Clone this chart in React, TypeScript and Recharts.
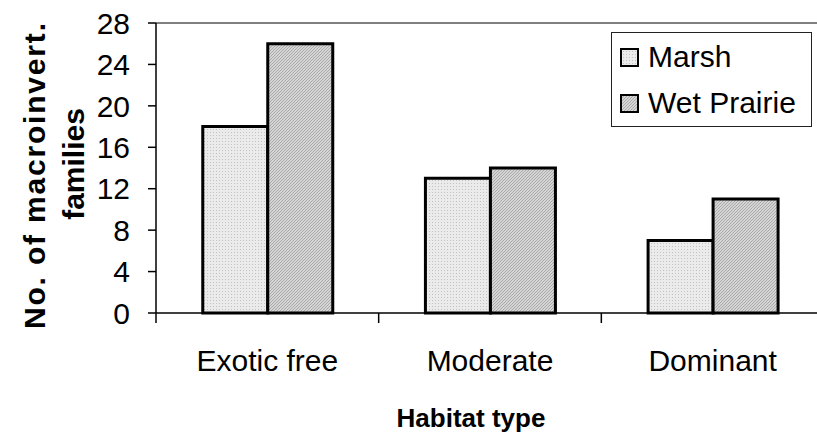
import { BarChart, Bar, XAxis, YAxis, ReferenceLine, Legend } from 'recharts';

const categories = ['Exotic free', 'Moderate', 'Dominant'];
const marsh = [18, 13, 7];
const wetPrairie = [26, 14, 11];
const yTicks = [0, 4, 8, 12, 16, 20, 24, 28];
const seriesNames = ['Marsh', 'Wet Prairie'];

const data = categories.map((name, i) => ({ name, marsh: marsh[i], wetPrairie: wetPrairie[i] }));

const FONT = '"Liberation Sans", Arial, sans-serif';
const fills = ['url(#patMarsh)', 'url(#patWet)'];

function XTick(props: any) {
  const { x, y, payload, width, visibleTicksCount } = props;
  const half = payload.offset ?? width / visibleTicksCount / 2;
  return (
    <g>
      <line x1={x - half} x2={x - half} y1={y} y2={y + 10} stroke="#000" strokeWidth={1.5} />
      <text x={x} y={y + 58} textAnchor="middle" fontSize={30} fontFamily={FONT} fill="#000">
        {payload.value}
      </text>
    </g>
  );
}

function YTitle() {
  return (
    <g>
      <defs>
        <pattern id="patMarsh" width="3" height="3" patternUnits="userSpaceOnUse">
          <rect width="3" height="3" fill="#ebebeb" />
          <rect width="1" height="1" fill="#c2c2c2" />
        </pattern>
        <pattern id="patWet" width="3" height="3" patternUnits="userSpaceOnUse">
          <rect width="3" height="3" fill="#d4d4d4" />
          <rect x="0" y="2" width="1" height="1" fill="#ababab" />
          <rect x="1" y="1" width="1" height="1" fill="#ababab" />
          <rect x="2" y="0" width="1" height="1" fill="#ababab" />
        </pattern>
      </defs>
      <text transform="translate(45,176) rotate(-90)" textAnchor="middle" fontSize={30} fontWeight="bold"
        fontFamily={FONT} fill="#000" textLength={306} lengthAdjust="spacing">
        No. of macroinvert.
      </text>
      <text transform="translate(84,164) rotate(-90)" textAnchor="middle" fontSize={30} fontWeight="bold"
        fontFamily={FONT} fill="#000">
        families
      </text>
    </g>
  );
}

function XTitle() {
  return (
    <text x={471} y={427} textAnchor="middle" fontSize={26} fontWeight="bold" fontFamily={FONT} fill="#000">
      Habitat type
    </text>
  );
}

function LegendBox() {
  return (
    <div style={{ width: 199, height: 93, border: '1.5px solid #222', background: '#fff', fontFamily: FONT, fontSize: 30, color: '#000' }}>
      {seriesNames.map((n, i) => (
        <div key={n} style={{ display: 'flex', alignItems: 'center', height: 48, paddingLeft: 8, marginTop: i === 0 ? 0 : -2 }}>
          <svg width={19} height={19} style={{ marginRight: 9 }}>
            <rect x={1} y={1} width={17} height={17} fill={fills[i]} stroke="#000" strokeWidth={2} />
          </svg>
          <span style={{ lineHeight: '30px' }}>{n}</span>
        </div>
      ))}
    </div>
  );
}

export default function App() {
  return (
    <div style={{ position: 'fixed', left: 0, top: 0, width: 817, height: 440, overflow: 'hidden', background: '#fff' }}>
      <BarChart width={840} height={440} data={data} margin={{ top: 23, right: 16, left: 0, bottom: 0 }}
        barCategoryGap="21%" barGap={0}>
        <XAxis dataKey="name" height={127} interval={0} tickLine={false} tickSize={0} tickMargin={0}
          axisLine={{ stroke: '#000', strokeWidth: 1.5 }} tick={<XTick />} label={<XTitle />} />
        <YAxis domain={[0, 28]} ticks={yTicks} width={156} tickSize={8} tickMargin={18}
          axisLine={{ stroke: '#000', strokeWidth: 1.5 }} tickLine={{ stroke: '#000', strokeWidth: 1.5 }}
          tick={{ fontSize: 30, fontFamily: FONT, fill: '#000' }} label={<YTitle />} />
        <ReferenceLine y={28} stroke="#808080" strokeWidth={2} />
        <Bar dataKey="marsh" name="Marsh" fill={fills[0]} stroke="#000" strokeWidth={3} isAnimationActive={false} />
        <Bar dataKey="wetPrairie" name="Wet Prairie" fill={fills[1]} stroke="#000" strokeWidth={3} isAnimationActive={false} />
        <Legend layout="vertical" align="center" verticalAlign="middle" content={<LegendBox />}
          wrapperStyle={{ position: 'absolute', left: 611, top: 32, width: 202, height: 96 }} />
      </BarChart>
    </div>
  );
}
